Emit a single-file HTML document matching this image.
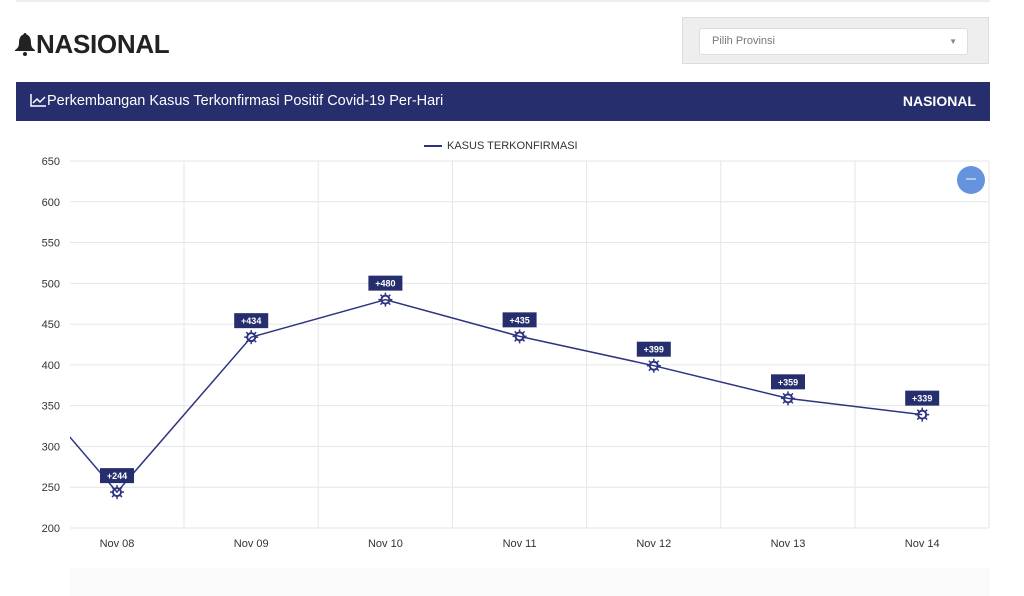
<!DOCTYPE html>
<html><head><meta charset="utf-8"><style>
body{margin:0;width:1024px;height:596px;background:#fff;font-family:"Liberation Sans",sans-serif;overflow:hidden;position:relative}
</style></head><body>
<div style="position:absolute;left:16px;top:0;width:974px;height:2px;background:#eee"></div>
<div style="position:absolute;left:14px;top:29px;font-size:26px;font-weight:bold;color:#222;letter-spacing:-0.3px">
<svg width="22" height="24" viewBox="0 0 22 24" style="vertical-align:-3px"><path d="M11 1c1 0 1.5.8 1.5 1.5C16 3.5 17 7 17 11c0 4 2 6 4 7v1H1v-1c2-1 4-3 4-7 0-4 1-7.5 4.5-8.5C9.5 1.8 10 1 11 1z" fill="#222"/><circle cx="11" cy="22" r="2" fill="#222"/></svg>NASIONAL</div>
<div style="position:absolute;left:682px;top:17px;width:307px;height:47px;background:#eee;border:1px solid #ddd;box-sizing:border-box">
<div style="position:absolute;left:16px;top:10px;width:269px;height:27px;background:#fff;border:1px solid #ddd;border-radius:3px;box-sizing:border-box;font-size:11px;color:#777;line-height:25px;padding-left:12px">Pilih Provinsi<span style="position:absolute;right:10px;top:0;font-size:8px;color:#888">▼</span></div>
</div>
<div style="position:absolute;left:16px;top:82px;width:974px;height:39px;background:#262e6e;color:#fff">
<svg width="16" height="13" viewBox="0 0 16 13" style="position:absolute;left:14px;top:12px"><path d="M1 0v12h15" fill="none" stroke="#fff" stroke-width="1.5"/><path d="M3 9l4-4 3 3 5-5" fill="none" stroke="#fff" stroke-width="1.5"/></svg>
<span style="position:absolute;left:31px;top:11px;font-size:14.5px">Perkembangan Kasus Terkonfirmasi Positif Covid-19 Per-Hari</span>
<span style="position:absolute;right:14px;top:11px;font-size:14px;font-weight:bold">NASIONAL</span>
</div>
<div style="position:absolute;left:70px;top:568px;width:920px;height:28px;background:#fafafa"></div>
<svg id="chart" width="1024" height="596" style="position:absolute;left:0;top:0"></svg>
<script>
const categories=["Nov 07","Nov 08","Nov 09","Nov 10","Nov 11","Nov 12","Nov 13","Nov 14"];
const values=[436,244,434,480,435,399,359,339];
const yTicks=[200,250,300,350,400,450,500,550,600,650];
const svg=document.getElementById('chart');
const NS='http://www.w3.org/2000/svg';
const L=70,R=989,T=161,B=528;
const y=v=>B-(v-200)/450*(B-T);
const x=i=>117+(i-1)*134.2;
function el(t,a,p){const e=document.createElementNS(NS,t);for(const k in a)e.setAttribute(k,a[k]);(p||svg).appendChild(e);return e;}
const defs=el('defs',{});const cp=el('clipPath',{id:'cp'},defs);el('rect',{x:L,y:T-30,width:R-L,height:B-T+40},cp);
yTicks.forEach(v=>{
 const g=el('line',{x1:L,x2:R,y1:y(v),y2:y(v),stroke:'#e6e6e6','stroke-width':1});
 
 const t=el('text',{x:60,y:y(v)+4,'text-anchor':'end','font-size':11,fill:'#333'});t.textContent=v;
 
});
for(let i=1;i<categories.length;i++){
 const gx=x(i)+67;
 if(gx<R){const g=el('line',{x1:gx,x2:gx,y1:T,y2:B,stroke:'#e6e6e6'});
 }
 const t=el('text',{x:x(i),y:547,'text-anchor':'middle','font-size':11,fill:'#333'});t.textContent=categories[i];
 
}
el('line',{x1:R,x2:R,y1:T,y2:B,stroke:'#e6e6e6'});
const pts=values.map((v,i)=>x(i)+','+y(v)).join(' ');
const line=el('polyline',{points:pts,fill:'none',stroke:'#2e3480','stroke-width':1.5,'clip-path':'url(#cp)'});

for(let i=1;i<values.length;i++){
 const cx=x(i),cy=y(values[i]);
 const g=el('g',{});
 el('circle',{cx,cy,r:4,fill:'none',stroke:'#2e3480','stroke-width':2},g);
 for(let a=0;a<8;a++){const an=a*Math.PI/4;el('line',{x1:cx+4*Math.cos(an),y1:cy+4*Math.sin(an),x2:cx+7*Math.cos(an),y2:cy+7*Math.sin(an),stroke:'#2e3480','stroke-width':1.5},g);}
 el('rect',{x:cx-17,y:cy-24,width:34,height:15,fill:'#262e6e'},g);
 const t=el('text',{x:cx,y:cy-13,'text-anchor':'middle','font-size':9,'font-weight':'bold',fill:'#fff'},g);t.textContent='+'+values[i];
}
const lg=el('g',{});
el('line',{x1:424,x2:442,y1:146,y2:146,stroke:'#2e3480','stroke-width':2},lg);
const lt=el('text',{x:447,y:149,'font-size':11,fill:'#333'},lg);lt.textContent='KASUS TERKONFIRMASI';
const zb=el('g',{});
el('circle',{cx:971,cy:180,r:14,fill:'#6593de'},zb);
el('line',{x1:966,x2:976,y1:179,y2:179,stroke:'#fff','stroke-width':1},zb);
</script>
</body></html>
